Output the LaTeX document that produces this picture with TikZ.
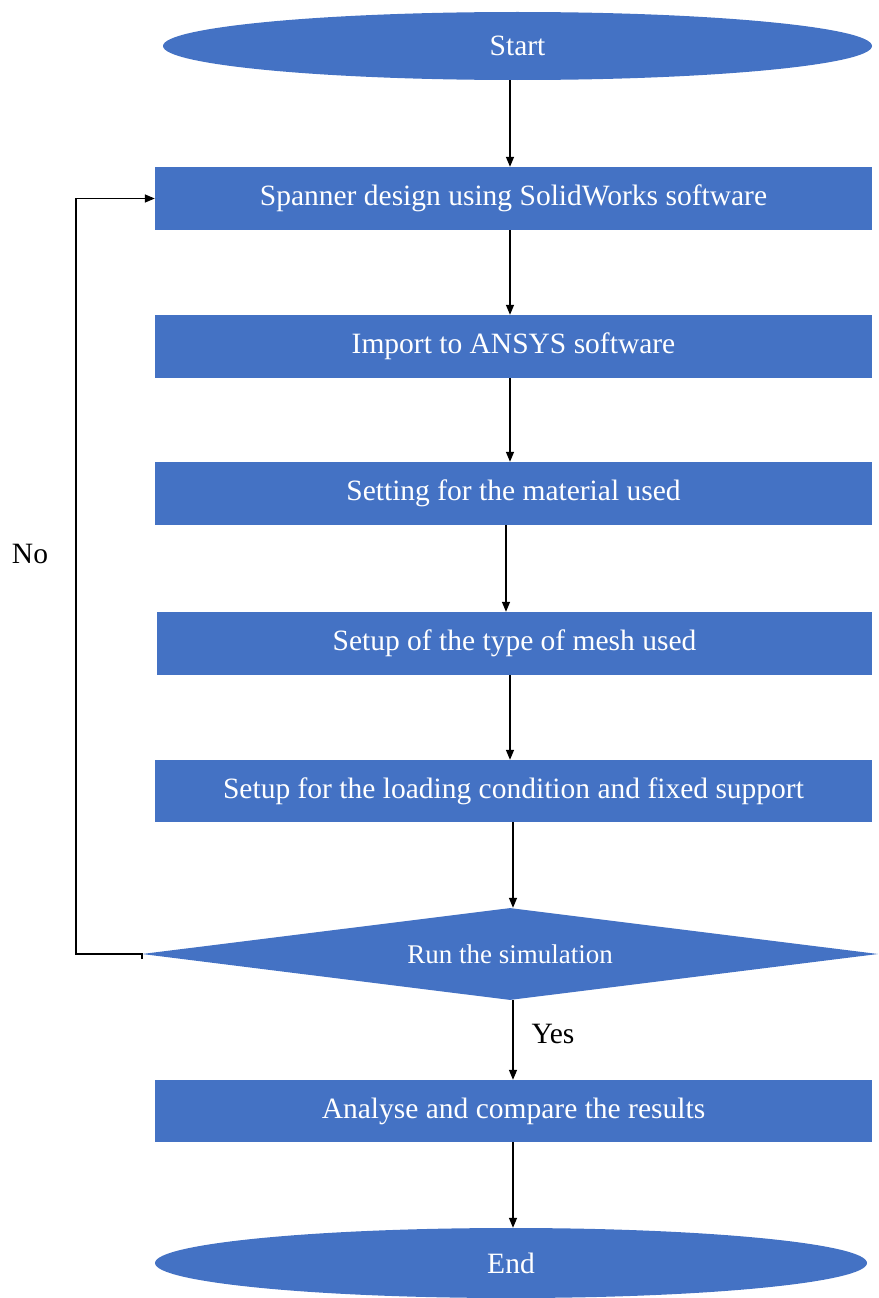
\documentclass[tikz,border=0pt]{standalone}
\usepackage{fontspec}
\setmainfont{Liberation Serif}
\usetikzlibrary{shapes.geometric,arrows.meta}
\definecolor{boxblue}{HTML}{4472C4}
\begin{document}
\begin{tikzpicture}[x=1pt,y=-1pt,
  box/.style={rectangle,fill=boxblue,text=white,minimum width=717pt,minimum height=63pt,inner sep=0pt,font=\fontsize{29.5}{33}\selectfont},
  term/.style={ellipse,fill=boxblue,text=white,inner sep=0pt,font=\fontsize{29.5}{33}\selectfont},
  dec/.style={diamond,fill=boxblue,text=white,aspect=8,inner sep=0pt,minimum width=736pt,minimum height=92pt,font=\fontsize{27}{30}\selectfont},
  arr/.style={-{Triangle[length=10pt,width=8pt]},line width=1.4pt},
  lbl/.style={font=\fontsize{29.5}{33}\selectfont,inner sep=0pt}]
\useasboundingbox (0,0) rectangle (878,1298);
\node[term,minimum width=709pt,minimum height=68pt] (start) at (517.5,46) {Start};
\node[box] (b1) at (513.5,198.5) {Spanner design using SolidWorks software};
\node[box] (b2) at (513.5,346.5) {Import to ANSYS software};
\node[box] (b3) at (513.5,493.5) {Setting for the material used};
\node[box,minimum width=715pt] (b4) at (514.5,643.5) {Setup of the type of mesh used};
\node[box,minimum width=717pt,minimum height=62pt] (b5) at (513.5,791) {Setup for the loading condition and fixed support};
\node[dec] (d) at (510,954) {Run the simulation};
\node[box,minimum height=62pt] (b6) at (513.5,1111) {Analyse and compare the results};
\node[term,minimum width=712pt,minimum height=70pt] (end) at (511,1263) {End};
\node[lbl] (no) at (30,554) {No};
\node[lbl] (yes) at (553,1034) {Yes};
\coordinate (ax) at (510,0);
\coordinate (bx) at (506,0);
\coordinate (cx) at (513,0);
\coordinate (fx) at (76,0);
\draw[arr] (start.south -| ax) -- (b1.north -| ax);
\draw[arr] (b1.south -| ax) -- (b2.north -| ax);
\draw[arr] (b2.south -| ax) -- (b3.north -| ax);
\draw[arr] (b3.south -| bx) -- (b4.north -| bx);
\draw[arr] (b4.south -| ax) -- (b5.north -| ax);
\draw[arr] (b5.south -| cx) -- (d.north -| cx);
\draw[arr] (d.south -| cx) -- (b6.north -| cx);
\draw[arr] (b6.south -| cx) -- (end.north -| cx);
\draw[arr] ([yshift=-5pt]d.west) -- (d.west) -- (d.west -| fx) |- (b1.west);
\end{tikzpicture}
\end{document}
